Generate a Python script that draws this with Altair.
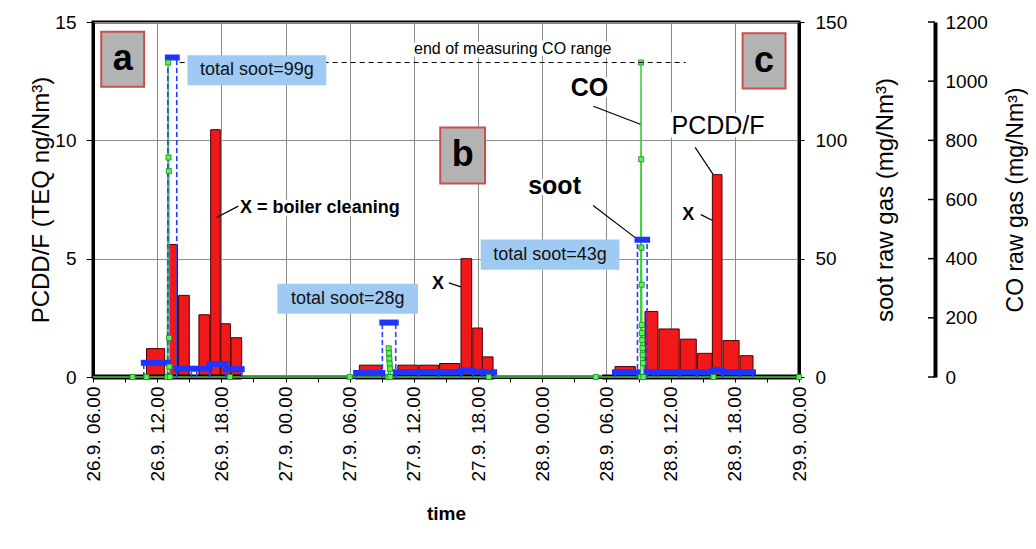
import altair as alt
import pandas as pd

FONT = "Liberation Sans"

# ---------------- data (time in hours since 26.9. 00:00) ----------------
x_ticks = list(range(6, 73, 3))

pcdd_start = [11.0, 13.15, 14.0, 15.9, 17.0, 17.95, 18.9,
              30.9, 34.5, 36.5, 38.4, 40.4, 41.5, 42.4,
              54.8, 57.6, 58.9, 60.9, 62.5, 63.9, 64.9, 66.5]
pcdd_end = [12.7, 13.9, 15.0, 16.9, 17.9, 18.85, 19.9,
            33.0, 36.4, 38.3, 40.3, 41.4, 42.4, 43.4,
            56.7, 58.8, 60.8, 62.4, 63.9, 64.8, 66.4, 67.7]
pcdd_val = [1.2, 5.6, 3.45, 2.63, 10.45, 2.25, 1.66,
            0.5, 0.5, 0.5, 0.57, 5.0, 2.07, 0.85,
            0.44, 2.77, 2.03, 1.6, 1.0, 8.55, 1.54, 0.9]

soot_start = [10.75, 13.0, 13.83, 15.7, 16.9, 18.4,
              30.6, 33.05, 34.3, 36.4, 38.3, 40.4, 41.5, 42.4,
              54.8, 56.9, 57.8, 58.8, 60.9, 62.5, 63.9, 64.9, 66.5]
soot_end = [13.0, 13.83, 15.2, 16.9, 18.4, 19.9,
            33.05, 34.3, 36.4, 38.3, 40.4, 41.5, 42.4, 43.5,
            56.9, 57.8, 58.4, 60.8, 62.4, 63.9, 64.8, 66.4, 67.7]
soot_val = [6, 135, 3.5, 3.5, 5.5, 3.3,
            1.7, 23, 2, 2, 2, 2.8, 2.2, 2,
            2, 58, 2, 2, 2, 2, 3, 2, 2]

co_time = [6.0, 9.7, 11.0, 12.95, 13.02, 13.06, 13.09, 13.12, 13.15, 13.2, 18.8,
           30.0, 33.6, 33.64, 33.67, 33.7, 33.73, 33.76, 33.8, 43.0,
           53.0, 57.2, 57.23, 57.25, 57.27, 57.29, 57.31, 57.33, 57.35, 57.37, 57.39, 57.42,
           57.46, 64.0, 72.0]
co_val = [0, 0, 0, 0, 1063, 742, 696, 132, 35, 0, 0,
          0, 0, 97, 80, 62, 45, 28, 0, 0,
          0, 0, 1063, 736, 437, 312, 176, 149, 125, 98, 75, 47,
          0, 0, 0]
co_limit = 1063
co_limit_from, co_limit_to = 14.1, 61.4

baseline_start = [6.0, 30.5, 53.6]
baseline_end = [19.9, 43.5, 72.0]

left_ticks = [0, 5, 10, 15]
soot_ticks = [0, 50, 100, 150]
co_ticks = [0, 200, 400, 600, 800, 1000, 1200]

# annotations (hours / PCDD-F units)
panel_label = ["a", "b", "c"]
panel_x1 = [6.77, 38.46, 66.73]
panel_x2 = [10.78, 42.65, 70.74]
panel_y1 = [14.59, 10.54, 14.52]
panel_y2 = [12.26, 8.18, 12.19]

total_label = ["total soot=99g", "total soot=28g", "total soot=43g"]
total_x1 = [14.83, 23.24, 42.25]
total_x2 = [27.81, 36.38, 55.21]
total_y1 = [13.6, 3.94, 5.81]
total_y2 = [12.33, 2.67, 4.53]

note_text = ["X = boiler cleaning", "X", "X", "CO", "soot", "PCDD/F", "end of measuring CO range"]
note_x = [19.75, 38.25, 61.64, 52.41, 49.15, 64.43, 45.24]
note_y = [7.16, 3.92, 6.86, 12.2, 8.05, 10.59, 13.86]
note_size = [18, 18, 18, 25, 25, 25, 16]
note_weight = ["bold", "bold", "bold", "bold", "bold", "normal", "normal"]
note_align = ["left", "center", "center", "center", "center", "center", "center"]

leader_x1 = [17.56, 39.27, 62.82, 52.78, 52.75, 62.29]
leader_x2 = [19.58, 40.39, 63.93, 57.17, 56.69, 63.97]
leader_y1 = [6.74, 3.98, 6.86, 11.44, 7.25, 9.7]
leader_y2 = [7.22, 3.81, 6.61, 10.68, 5.89, 8.56]

# ---------------- helpers ----------------
W, H = 706, 355
XS = alt.Scale(domain=[6, 72], nice=False, zero=False)

label_expr = ("datum.value % 6 == 0 ? (floor(datum.value/24)+26) + '.9. ' + "
              "((datum.value % 24) < 10 ? '0' : '') + (datum.value % 24) + '.00' : ''")

x_axis = alt.Axis(values=x_ticks, labelExpr=label_expr, labelAngle=270,
                  labelAlign="right", labelBaseline="middle",
                  labelFontSize=19, labelPadding=4, tickSize=5, tickWidth=1,
                  domainWidth=3, grid=True,
                  gridOpacity={"condition": {"test": "datum.value % 6 == 0", "value": 1}, "value": 0},
                  title="time", titleFontSize=19, titleFontWeight="bold",
                  titleY=136, titleBaseline="middle")


def xe(field):
    return alt.X(field, type="quantitative", scale=XS, axis=x_axis)


def ys(field, domain, axis=None):
    return alt.Y(field, type="quantitative",
                 scale=alt.Scale(domain=domain, nice=False, zero=True), axis=axis)


LD = [0, 15]
SD = [0, 150]
CD = [0, 1200]

left_axis = alt.Axis(values=left_ticks, grid=True, tickSize=7, labelPadding=10,
                     labelFontSize=19, domainWidth=3,
                     title="PCDD/F (TEQ ng/Nm³)", titleFontSize=24, titleFontWeight="normal",
                     titleAngle=270, titleX=-52, titleY=H / 2,
                     titleAlign="center", titleBaseline="middle")

soot_axis = alt.Axis(orient="right", values=soot_ticks, grid=False, tickSize=5,
                     labelPadding=11, labelFontSize=19, domainWidth=3,
                     title="soot raw gas (mg/Nm³)", titleFontSize=24, titleFontWeight="normal",
                     titleAngle=270, titleX=86, titleY=H / 2,
                     titleAlign="center", titleBaseline="middle")

co_axis = alt.Axis(orient="right", offset=136, values=co_ticks, grid=False, format="d",
                   ticks=False, tickSize=0, labelPadding=10, labelFontSize=19,
                   domainWidth=4,
                   title="CO raw gas (mg/Nm³)", titleFontSize=23, titleFontWeight="normal",
                   titleAngle=270, titleX=80, titleY=H / 2,
                   titleAlign="center", titleBaseline="middle")

# ---------------- tables ----------------
bars = pd.DataFrame({"s": pcdd_start, "e": pcdd_end, "v": pcdd_val})
bars["z"] = 0.0
soot = pd.DataFrame({"s": soot_start, "e": soot_end, "v": soot_val})
soot_edges = pd.DataFrame({"t": soot_start + soot_end, "v": soot_val + soot_val})
soot_edges["z"] = 0.0
co = pd.DataFrame({"t": co_time, "v": co_val})
co_marks = co[co.t > 6.0]
base = pd.DataFrame({"s": baseline_start, "e": baseline_end})
base["z"] = 0.0
cot = pd.DataFrame({"v": co_ticks})
lim = pd.DataFrame({"s": [co_limit_from], "e": [co_limit_to], "v": [co_limit]})
panels = pd.DataFrame({"lab": panel_label, "x1": panel_x1, "x2": panel_x2,
                       "y1": panel_y1, "y2": panel_y2})
panels["xc"] = (panels.x1 + panels.x2) / 2
panels["yc"] = (panels.y1 + panels.y2) / 2
totals = pd.DataFrame({"lab": total_label, "x1": total_x1, "x2": total_x2,
                       "y1": total_y1, "y2": total_y2})
totals["xc"] = (totals.x1 + totals.x2) / 2
totals["yc"] = (totals.y1 + totals.y2) / 2
leaders = pd.DataFrame({"x1": leader_x1, "x2": leader_x2, "y1": leader_y1, "y2": leader_y2})

# ---------------- layers ----------------
layers = []

layers.append(alt.Chart(bars).mark_rect(fill="#f01818", stroke="#4a0000", strokeWidth=1).encode(
    x=xe("s"), x2="e", y=ys("v", LD, left_axis), y2="z"))

layers.append(alt.Chart(base).mark_rule(color="black", strokeWidth=5).encode(
    x=xe("s"), x2="e", y=ys("z", LD)))

layers.append(alt.Chart(co).mark_line(color="#3ad13a", strokeWidth=1.5).encode(
    x=xe("t"), y=ys("v", CD, co_axis)))

layers.append(alt.Chart(soot_edges).mark_rule(color="#2a3cff", strokeDash=[5, 3], strokeWidth=1.6).encode(
    x=xe("t"), y=ys("z", SD), y2="v"))

layers.append(alt.Chart(soot).mark_rule(color="#1f35ff", strokeWidth=6, strokeCap="square").encode(
    x=xe("s"), x2="e", y=ys("v", SD, soot_axis)))

layers.append(alt.Chart(co_marks).mark_square(size=26, fill="#5cf25c", stroke="#178a17",
                                              strokeWidth=0.8, opacity=1).encode(
    x=xe("t"), y=ys("v", CD)))

layers.append(alt.Chart(cot).mark_rule(color="black", strokeWidth=1.5).encode(
    x=alt.value(W + 129), x2=alt.value(W + 136), y=ys("v", CD)))

# text halos (hide grid lines behind annotations)
for i in range(len(note_text)):
    d = pd.DataFrame({"t": [note_text[i]], "x": [note_x[i]], "y": [note_y[i]]})
    layers.append(alt.Chart(d).mark_text(
        font=FONT, fontSize=note_size[i], fontWeight=note_weight[i], align=note_align[i],
        baseline="middle", fill="white", stroke="white", strokeWidth=7).encode(
        x=xe("x"), y=ys("y", LD), text="t"))

layers.append(alt.Chart(lim).mark_rule(color="black", strokeDash=[5, 4], strokeWidth=1).encode(
    x=xe("s"), x2="e", y=ys("v", CD)))

layers.append(alt.Chart(panels).mark_rect(fill="#b3b3b3", stroke="#c8504b", strokeWidth=2).encode(
    x=xe("x1"), x2="x2", y=ys("y1", LD), y2="y2"))
layers.append(alt.Chart(panels).mark_text(font=FONT, fontSize=36, fontWeight="bold",
                                          color="black", baseline="middle").encode(
    x=xe("xc"), y=ys("yc", LD), text="lab"))

layers.append(alt.Chart(totals).mark_rect(fill="#9fcaf3").encode(
    x=xe("x1"), x2="x2", y=ys("y1", LD), y2="y2"))
layers.append(alt.Chart(totals).mark_text(font=FONT, fontSize=18, color="#111111",
                                          baseline="middle").encode(
    x=xe("xc"), y=ys("yc", LD), text="lab"))

layers.append(alt.Chart(leaders).mark_rule(color="black", strokeWidth=1.2).encode(
    x=xe("x1"), x2="x2", y=ys("y1", LD), y2="y2"))

for i in range(len(note_text)):
    d = pd.DataFrame({"t": [note_text[i]], "x": [note_x[i]], "y": [note_y[i]]})
    layers.append(alt.Chart(d).mark_text(
        font=FONT, fontSize=note_size[i], fontWeight=note_weight[i], align=note_align[i],
        baseline="middle", color="black").encode(
        x=xe("x"), y=ys("y", LD), text="t"))

chart = alt.layer(*layers).resolve_scale(y="independent").properties(
    width=W, height=H,
    autosize=alt.AutoSizeParams(type="none"),
    padding={"left": 85, "top": 14, "right": 229, "bottom": 164},
    background="white",
).configure_view(stroke="black", strokeWidth=3).configure_axis(
    labelFont=FONT, titleFont=FONT, labelColor="black", titleColor="black",
    domainColor="black", tickColor="black", gridColor="#8c8c8c", gridWidth=1,
)

chart.save("out.html", embed_options={"renderer": "svg", "actions": False})
